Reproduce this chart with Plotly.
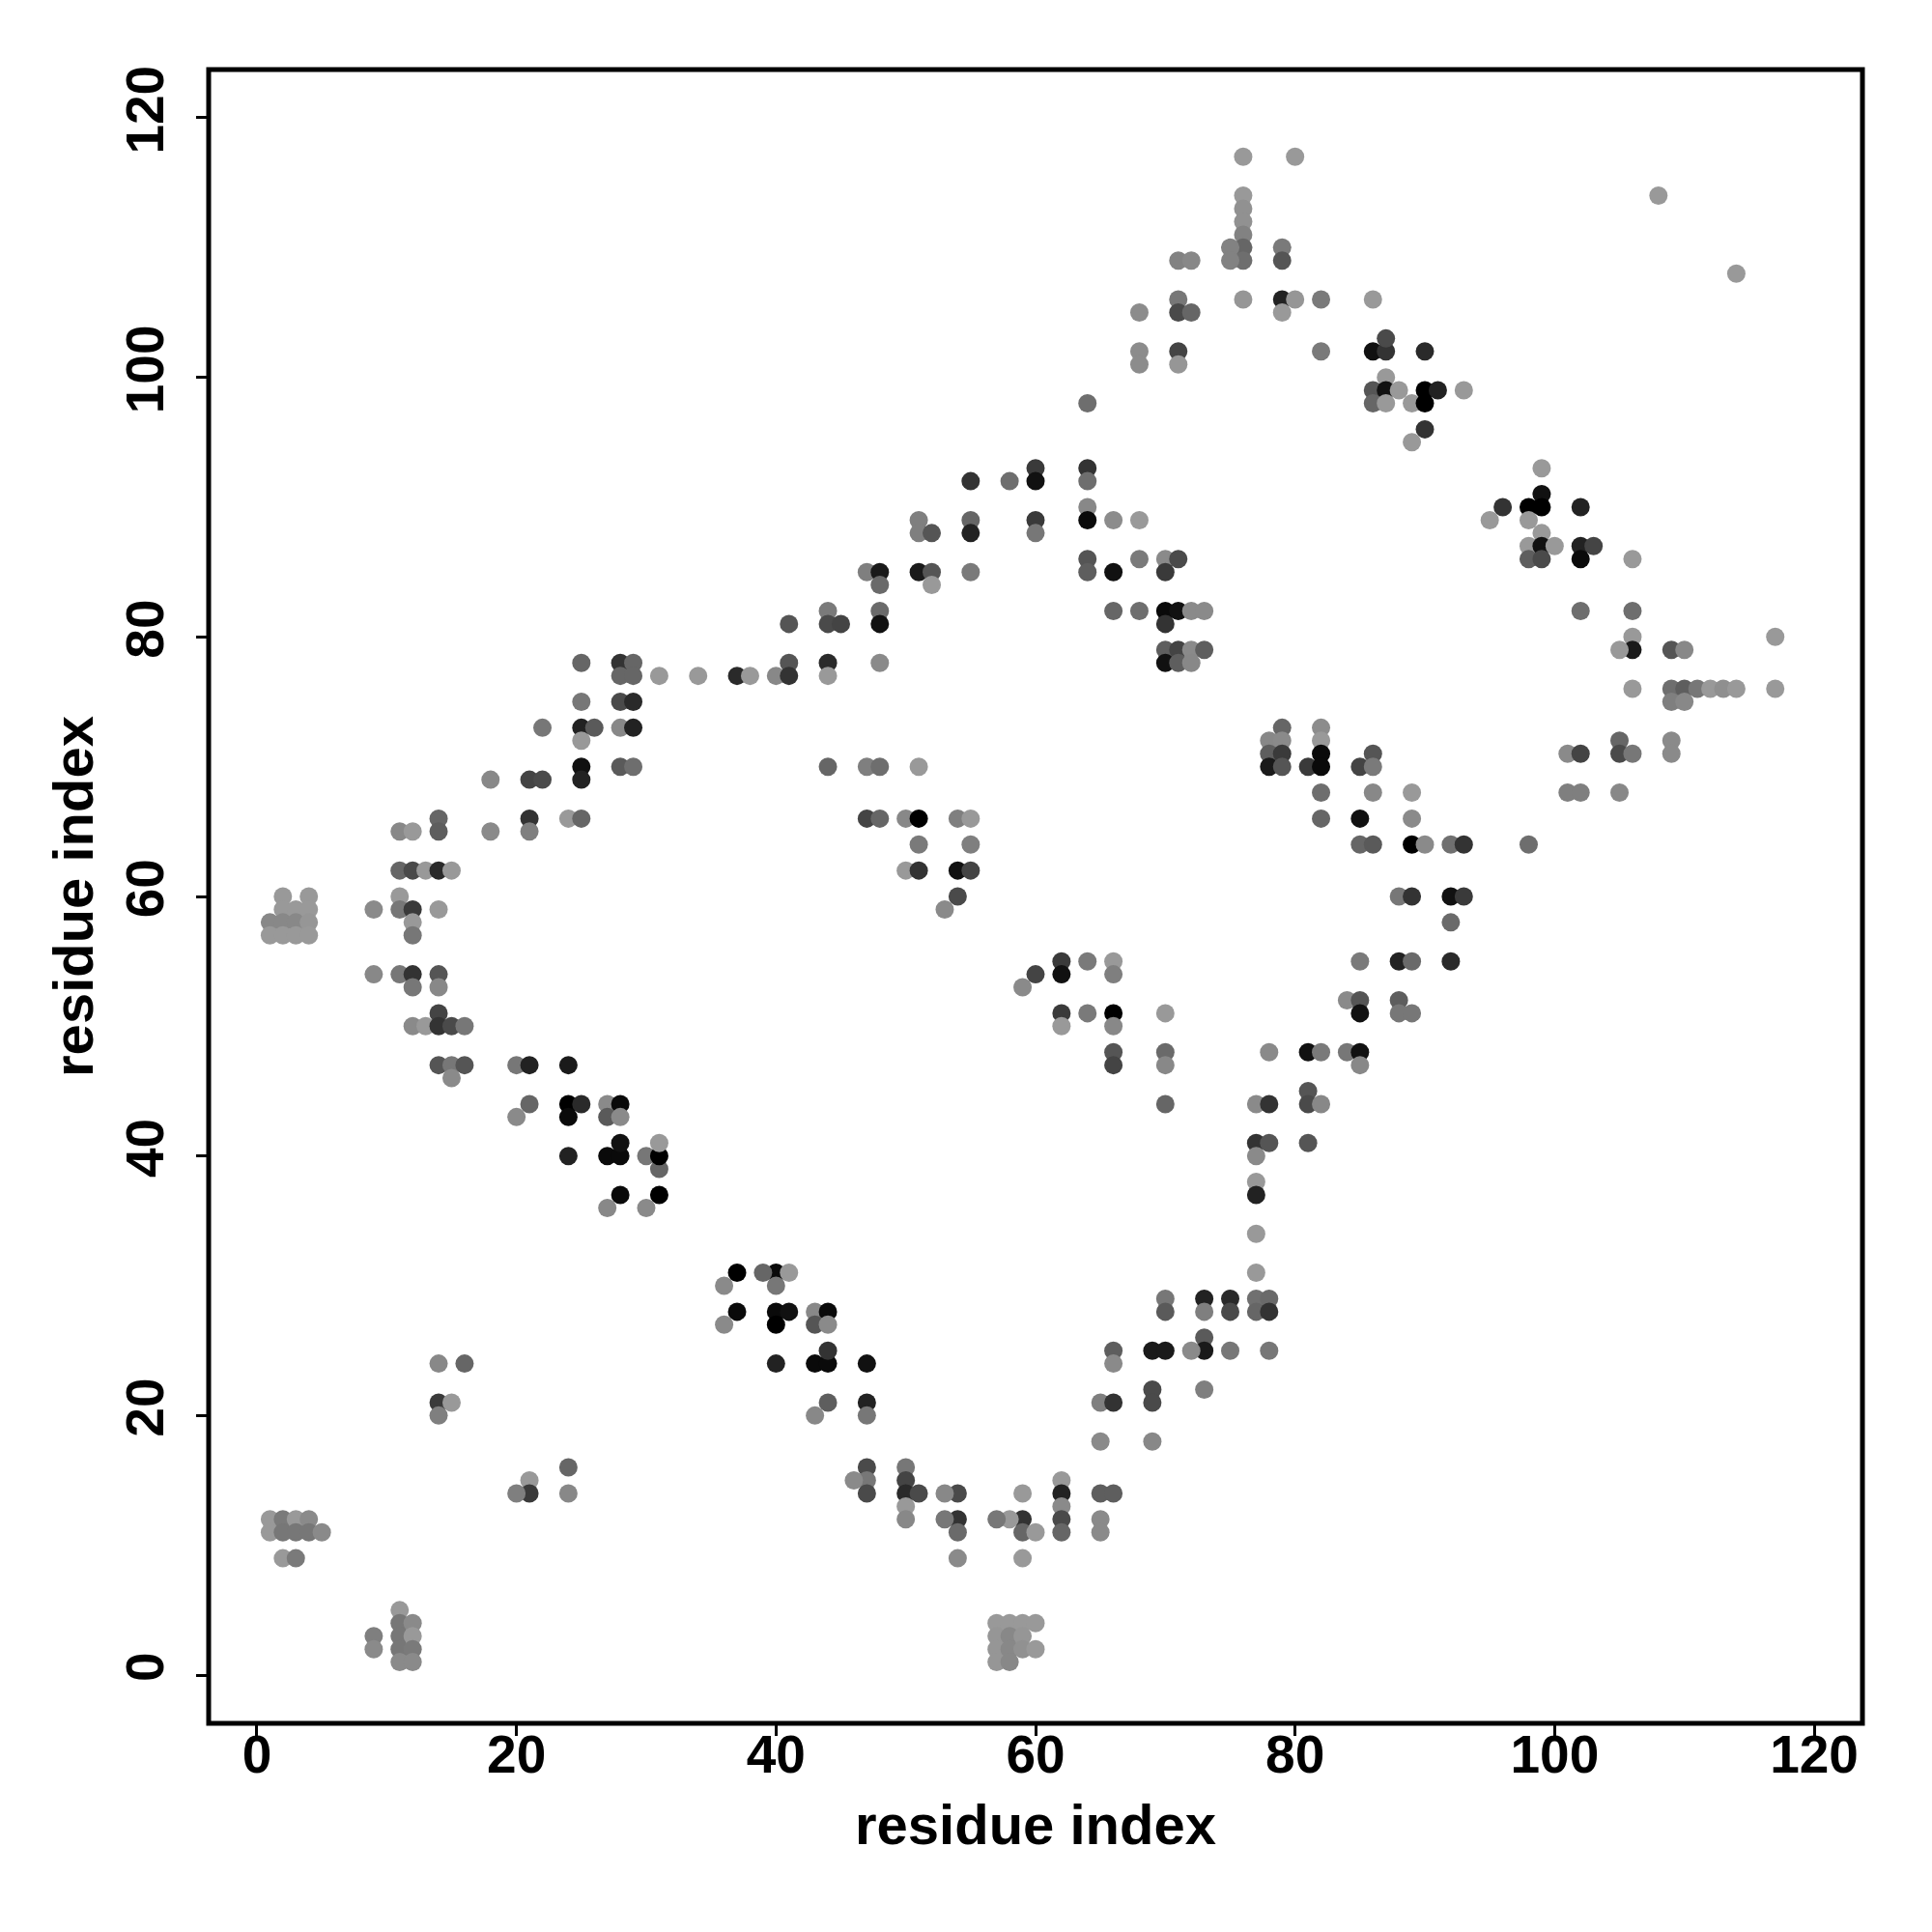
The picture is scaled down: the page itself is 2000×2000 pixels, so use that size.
import plotly.graph_objects as go

# contacts from each map region: (residue i, residue j, grey level 0=black..153=light grey)
pts_upper = [
(76,117,153),(80,117,153),(76,114,153),(76,113,145),(76,112,145),(76,111,130),(76,110,102),(76,109,110),(75,110,130),(75,109,130),(71,109,130),(72,109,136),(79,110,122),(79,109,85),(76,106,150),(79,106,34),(80,106,150),(79,105,153),(82,106,122),(71,106,119),(71,105,74),(72,105,102),(68,105,140),(68,102,140),(68,101,140),(71,102,68),(71,101,150),(82,102,122),(64,98,110),(55,92,51),(58,92,110),(60,93,58),(60,92,17),(64,93,51),(64,92,110),(64,90,136),(64,89,10),(66,89,140),(68,89,153),(51,89,127),(51,88,127),(52,88,85),(55,89,102),(55,88,34),(60,89,58),(60,88,119),(64,86,85),(64,85,94),(66,85,17),(68,86,122),(70,86,138),(71,86,74),(70,85,58),(47,85,127),(48,85,26),(48,84,106),(51,85,26),(52,85,85),(52,84,153),(55,85,122),(44,82,122),(44,81,74),(45,81,68),(41,81,85),(48,82,106),(48,81,17),(66,82,102),(68,82,110),(70,82,10),(71,82,17),(72,82,138),(73,82,138),(70,81,51),
]
pts_middle = [
(41,78,85),(40,77,136),(41,77,51),(44,78,42),(44,77,153),(48,78,138),(70,79,94),(71,79,68),(72,79,138),(73,79,94),(70,78,17),(71,78,94),(72,78,136),(44,70,102),(47,70,127),(48,70,110),(51,70,153),(47,66,68),(48,66,102),(50,66,136),(51,66,0),(54,66,127),(55,66,153),(51,64,122),(55,64,127),(50,62,153),(51,62,51),(54,62,17),(55,62,68),(54,60,74),(53,59,138),
(79,73,102),(78,72,136),(79,72,138),(78,71,94),(79,71,58),(78,70,26),(79,70,85),(81,70,58),(82,73,140),(82,72,153),(82,71,10),(82,70,10),(82,68,110),(82,66,102),
(62,55,58),(62,54,17),(60,54,68),(59,53,138),(64,55,122),(66,55,153),(66,54,127),(62,51,58),(62,50,153),(64,51,122),(66,51,0),(66,50,136),(70,51,153),(66,48,85),(66,47,68),(70,48,106),(70,47,136),(70,44,102),(78,48,138),(81,48,17),(82,48,122),(81,45,85),(81,44,74),(82,44,136),(77,44,138),(78,44,51),(77,41,51),(78,41,85),(77,40,138),(81,41,85),
]
pts_lower = [
(77,38,153),(77,37,34),(77,34,153),(77,31,153),(77,29,112),(78,29,106),(77,28,102),(78,28,51),(70,29,119),(70,28,90),(73,29,34),(73,28,127),(75,29,42),(75,28,74),(73,26,90),(73,25,26),(72,25,138),(75,25,119),(78,25,119),(69,25,26),(70,25,26),(66,25,94),(66,24,138),(73,22,127),(69,22,74),(69,21,74),(65,21,127),(66,21,51),(65,18,138),(69,18,136),(62,15,153),(62,14,34),(62,13,138),(62,12,74),(62,11,102),(65,14,94),(66,14,94),(65,12,138),(65,11,138),(59,14,153),(59,12,51),(59,11,102),(60,11,153),(58,12,153),(57,12,119),(59,9,153),(54,14,74),(53,14,136),(54,12,51),(53,12,119),(54,11,106),(54,9,138),(50,16,119),(50,15,68),(50,14,42),(51,14,74),(50,13,153),(50,12,136),(47,16,74),(47,15,119),(47,14,74),(46,15,138),(47,24,17),(47,21,34),(47,20,119),(44,21,94),(43,20,136),(40,24,34),(43,24,10),(44,24,10),(44,25,51),(40,28,10),(41,28,17),(40,27,0),(43,28,136),(44,28,10),(43,27,85),(44,27,138),(40,31,10),(41,31,153),(39,31,102),(40,30,119),
(57,4,153),(58,4,153),(59,4,153),(60,4,153),(57,3,150),(58,3,136),(59,3,150),(57,2,150),(58,2,136),(59,2,145),(60,2,153),(57,1,150),(58,1,136),
]
pts_left_low = [
(28,37,10),(27,36,136),(31,37,0),(30,36,138),(31,39,102),(37,31,0),(36,30,138),(37,28,10),(36,27,138),
(14,24,136),(16,24,102),(14,21,58),(15,21,153),(14,20,127),(21,15,153),(21,14,58),(20,14,127),(24,16,102),(24,14,136),
(1,12,153),(2,12,122),(3,12,153),(4,12,138),(1,11,153),(2,11,119),(3,11,119),(4,11,119),(5,11,138),(2,9,153),(3,9,122),
(9,3,127),(9,2,138),(11,5,153),(11,4,119),(11,3,119),(11,2,119),(11,1,138),(12,4,138),(12,3,153),(12,2,122),(12,1,138),
]
pts_left_mid = [
(25,78,102),(28,78,51),(29,78,102),(28,77,102),(29,77,102),(31,77,153),(34,77,153),(37,77,42),(38,77,153),
(25,75,119),(28,75,74),(29,75,42),(22,73,119),(25,73,34),(26,73,90),(28,73,136),(29,73,34),(25,72,153),(25,70,17),(25,69,34),(28,70,90),(29,70,110),(18,69,136),(21,69,68),(22,69,74),
(14,66,102),(14,65,94),(11,65,136),(12,65,153),(18,65,138),(21,66,51),(21,65,127),(24,66,153),(25,66,102),
(11,62,102),(12,62,74),(13,62,153),(14,62,42),(15,62,153),(11,60,153),(11,59,119),(12,59,58),(9,59,138),(14,59,153),(12,58,153),(12,57,119),
(2,60,153),(4,60,153),(2,59,153),(3,59,153),(4,59,153),(1,58,136),(2,58,136),(3,58,136),(4,58,150),(1,57,153),(2,57,153),(3,57,153),(4,57,153),
(9,54,136),(11,54,119),(12,54,51),(14,54,85),(12,53,119),(14,53,136),(14,51,68),(12,50,138),(13,50,153),(14,50,51),(15,50,74),(16,50,119),
(14,47,85),(15,47,119),(16,47,85),(15,46,138),(20,47,119),(21,47,34),(24,47,26),(21,44,102),(20,43,138),(24,44,0),(25,44,42),(24,43,10),(27,44,138),(28,44,10),(27,43,90),(28,43,138),
(24,40,34),(27,40,10),(28,40,10),(28,41,17),(30,40,119),(31,40,0),(31,41,153),
]
pts_right_up = [
(108,114,153),(114,108,153),(86,106,153),(86,102,17),(87,102,51),(87,103,74),(90,102,42),(87,100,153),(86,99,85),(87,99,17),(88,99,153),(90,99,0),(91,99,34),(93,99,153),(86,98,102),(87,98,153),(89,98,153),(90,98,0),(90,96,51),(89,95,153),
(99,93,153),(99,91,17),(96,90,51),(98,90,0),(99,90,0),(102,90,34),(95,89,153),(98,89,153),(99,88,153),(98,87,153),(99,87,17),(100,87,153),(102,87,34),(103,87,68),(98,86,94),(99,86,74),(102,86,10),(106,86,153),(102,82,110),(106,82,110),
]
pts_right_mid = [
(106,80,153),(106,79,26),(105,79,153),(109,79,85),(110,79,136),(117,80,153),(106,76,153),(109,76,110),(110,76,94),(111,76,119),(112,76,153),(113,76,143),(114,76,153),(117,76,153),(109,75,127),(110,75,136),(105,72,102),(105,71,74),(106,71,119),(101,71,138),(102,71,68),(109,72,138),(109,71,138),(101,68,127),(102,68,127),(105,68,136),
(86,71,85),(85,70,68),(86,70,122),(86,68,136),(89,68,153),(85,66,17),(89,66,138),(85,64,102),(86,64,90),(89,64,0),(90,64,138),(92,64,112),(93,64,51),(98,64,110),(88,60,119),(89,60,51),(92,60,17),(93,60,58),(92,58,106),(85,55,122),(88,55,34),(89,55,106),(92,55,42),(84,52,138),(85,52,85),(85,51,17),(88,52,94),(88,51,119),(89,51,119),(84,48,119),(85,48,17),(85,47,136),
]

all_pts = pts_upper + pts_middle + pts_lower + pts_left_low + pts_left_mid + pts_right_up + pts_right_mid
res_i = [p[0] for p in all_pts]
res_j = [p[1] for p in all_pts]
grey = [p[2] for p in all_pts]
colors = ["rgb(%d,%d,%d)" % (g, g, g) for g in grey]

x_ticks = [0, 20, 40, 60, 80, 100, 120]
y_ticks = [0, 20, 40, 60, 80, 100, 120]

fig = go.Figure(go.Scatter(
    x=res_i, y=res_j, mode="markers",
    marker=dict(size=19, color=colors, line=dict(width=0)),
    showlegend=False, hoverinfo="skip"))

font_family = "Liberation Sans, Arial, Helvetica, sans-serif"
axis_common = dict(
    showgrid=False, zeroline=False, automargin=False, showline=False,
    ticks="outside", ticklen=12, tickwidth=2.5, tickcolor="black",
    tickfont=dict(family=font_family, size=55, color="black", weight="bold"),
)
title_font = dict(family=font_family, size=58, color="black", weight="bold")
fig.update_layout(
    width=2000, height=2000,
    margin=dict(l=208, r=80, t=64, b=224),
    paper_bgcolor="white", plot_bgcolor="white",
    xaxis=dict(range=[-3.72, 123.72], tickvals=x_ticks, ticklabelstandoff=-28,
               title=dict(text="residue index", standoff=22, font=title_font),
               **axis_common),
    yaxis=dict(range=[-3.72, 123.72], tickvals=y_ticks, tickangle=-90, ticklabelstandoff=12,
               title=dict(text="residue index", standoff=3, font=title_font),
               **axis_common),
    shapes=[dict(type="rect", xref="x domain", yref="y domain", x0=0, x1=1, y0=0, y1=1,
                 line=dict(color="black", width=5), fillcolor="rgba(0,0,0,0)", layer="above")],
)
fig.write_html("out.html")
